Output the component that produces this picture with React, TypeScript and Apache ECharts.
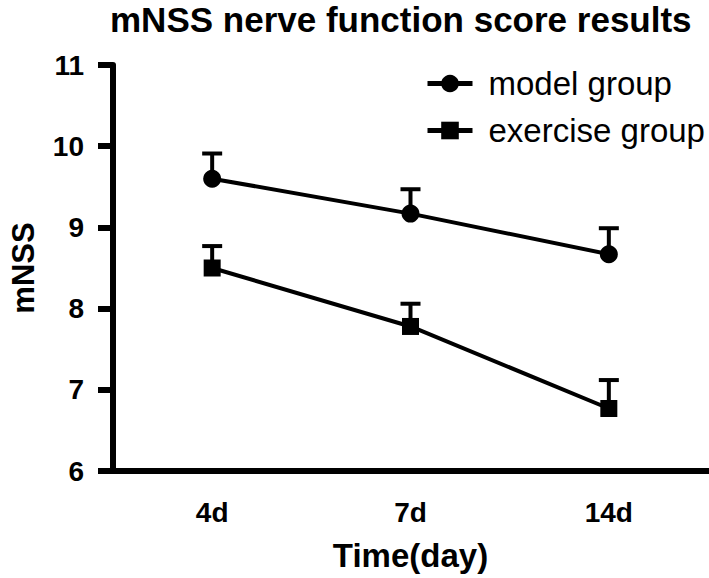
import React, { useEffect, useRef } from "react";
import * as echarts from "echarts";

const categories = ["4d", "7d", "14d"];
const modelMean = [9.6, 9.17, 8.67];
const modelUpper = [9.91, 9.47, 8.99];
const exerciseMean = [8.5, 7.78, 6.77];
const exerciseUpper = [8.77, 8.06, 7.12];
const yTicks = { min: 6, max: 11, interval: 1 };

const FONT = "Liberation Sans, Arial, Helvetica, sans-serif";

function errorSeries(name: string, mean: number[], upper: number[]) {
  return {
    type: "custom",
    name,
    silent: true,
    z: 1,
    data: mean.map((m, i) => [i, m, upper[i]]),
    renderItem: (_params: any, api: any) => {
      const p0 = api.coord([api.value(0), api.value(1)]);
      const p1 = api.coord([api.value(0), api.value(2)]);
      const half = 10;
      return {
        type: "group",
        children: [
          {
            type: "line",
            shape: { x1: p0[0], y1: p0[1], x2: p1[0], y2: p1[1] },
            style: { stroke: "#000", lineWidth: 4 },
          },
          {
            type: "line",
            shape: { x1: p1[0] - half, y1: p1[1], x2: p1[0] + half, y2: p1[1] },
            style: { stroke: "#000", lineWidth: 4 },
          },
        ],
      };
    },
  };
}

export default function App() {
  const ref = useRef<HTMLDivElement>(null);
  useEffect(() => {
    if (!ref.current) return;
    const chart = echarts.init(ref.current, undefined, { renderer: "svg" });
    chart.setOption({
      animation: false,
      backgroundColor: "#fff",
      title: {
        text: "mNSS nerve function score results",
        left: 110,
        top: 1,
        padding: [0, 0, 0, 0],
        textStyle: { fontFamily: FONT, fontSize: 35, lineHeight: 36, fontWeight: "bold", color: "#000" },
      },
      legend: {
        data: ["model group", "exercise group"],
        orient: "vertical",
        left: 420,
        top: 62,
        itemWidth: 45,
        itemHeight: 22,
        itemGap: 14,
        lineStyle: { width: 5, color: "#000" },
        itemStyle: { color: "#000" },
        textStyle: { fontFamily: FONT, fontSize: 33, color: "#000", padding: [0, 0, 0, 11] },
      },
      grid: { left: 100, right: 1, top: 65, bottom: 107, containLabel: false },
      xAxis: {
        type: "category",
        data: categories,
        boundaryGap: true,
        name: "Time(day)",
        nameLocation: "middle",
        nameGap: 68,
        nameTextStyle: { fontFamily: FONT, fontSize: 33, fontWeight: "bold", color: "#000" },
        axisLine: { lineStyle: { color: "#000", width: 6 } },
        axisTick: { alignWithLabel: true, length: 16, lineStyle: { color: "#000", width: 6 } },
        axisLabel: { fontFamily: FONT, fontSize: 28, fontWeight: "bold", color: "#000", margin: 27 },
        splitLine: { show: false },
      },
      yAxis: {
        type: "value",
        min: yTicks.min,
        max: yTicks.max,
        interval: yTicks.interval,
        name: "mNSS",
        nameLocation: "middle",
        nameGap: 74,
        nameTextStyle: { fontFamily: FONT, fontSize: 31, fontWeight: "bold", color: "#000" },
        axisLine: { show: true, lineStyle: { color: "#000", width: 6 } },
        axisTick: { show: true, length: 15, lineStyle: { color: "#000", width: 6 } },
        axisLabel: { fontFamily: FONT, fontSize: 28, fontWeight: "bold", color: "#000", margin: 29 },
        splitLine: { show: false },
      },
      series: [
        errorSeries("model err", modelMean, modelUpper),
        errorSeries("exercise err", exerciseMean, exerciseUpper),
        {
          type: "line",
          name: "model group",
          data: modelMean,
          symbol: "circle",
          symbolSize: 18,
          z: 3,
          lineStyle: { color: "#000", width: 4 },
          itemStyle: { color: "#000" },
        },
        {
          type: "line",
          name: "exercise group",
          data: exerciseMean,
          symbol: "rect",
          symbolSize: 17,
          z: 3,
          lineStyle: { color: "#000", width: 4 },
          itemStyle: { color: "#000" },
        },
      ],
    });
    return () => chart.dispose();
  }, []);
  return (
    <div
      ref={ref}
      style={{ position: "fixed", left: 0, top: 0, width: 709, height: 578 }}
    />
  );
}
